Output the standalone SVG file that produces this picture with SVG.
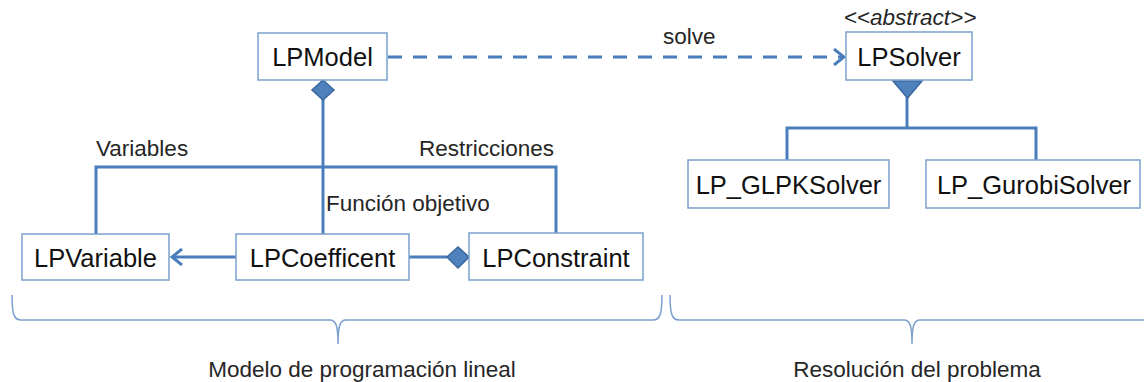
<svg xmlns="http://www.w3.org/2000/svg" width="1144" height="382" viewBox="0 0 1144 382">
<style>
.box{fill:#ffffff;stroke:#7BA0CD;stroke-width:1.5}
.nt{font-family:"Liberation Sans",Arial,sans-serif;font-size:25.5px;fill:#111111;text-anchor:middle}
.lb{font-family:"Liberation Sans",Arial,sans-serif;font-size:22.5px;fill:#262626}
.ln{fill:none;stroke:#4A7EBB;stroke-width:3}
.br{fill:none;stroke:#7BA0CD;stroke-width:1.5}
.dm{fill:#4F81BD;stroke:#3A679E;stroke-width:1.5}
</style>
<defs>
<marker id="open" markerWidth="14" markerHeight="18" refX="12" refY="9" orient="auto" markerUnits="userSpaceOnUse">
<path d="M2,1 L12,9 L2,17" fill="none" stroke="#4A7EBB" stroke-width="3"/>
</marker>
</defs>
<g id="connectors">
<line class="ln" x1="388" y1="57" x2="844" y2="57" stroke-dasharray="14,11" marker-end="url(#open)"/>
<line class="ln" x1="323" y1="99" x2="323" y2="234"/>
<polyline class="ln" points="96,234 96,167 556,167 556,233"/>
<line class="ln" x1="236" y1="257" x2="172" y2="257" marker-end="url(#open)"/>
<line class="ln" x1="409" y1="257" x2="447" y2="257"/>
<line class="ln" x1="907" y1="97" x2="907" y2="128"/>
<polyline class="ln" points="787,160 787,128 1036,128 1036,160"/>
<polygon class="dm" points="323,80 334,90 323,100 312,90"/>
<polygon class="dm" points="458,247 469,257 458,268 447,257"/>
<polygon class="dm" points="893,81 922,81 907.5,98"/>
<text class="lb" x="663" y="44">solve</text>
<text class="lb" x="96" y="156">Variables</text>
<text class="lb" x="419" y="156">Restricciones</text>
<text class="lb" x="326" y="211">Función objetivo</text>
</g>
<g id="LPModel">
<rect class="box" x="258" y="33" width="129" height="47"/>
<text class="nt" x="322.5" y="66">LPModel</text>
</g>
<g id="LPSolver">
<text class="lb" x="910" y="25" text-anchor="middle" font-style="italic" font-size="21px">&lt;&lt;abstract&gt;&gt;</text>
<rect class="box" x="846" y="32" width="126" height="48"/>
<text class="nt" x="909" y="65.5">LPSolver</text>
</g>
<g id="LP_GLPKSolver">
<rect class="box" x="688" y="160" width="201" height="48"/>
<text class="nt" x="788.5" y="193.5">LP_GLPKSolver</text>
</g>
<g id="LP_GurobiSolver">
<rect class="box" x="926" y="160" width="214" height="48"/>
<text class="nt" x="1034" y="193.5">LP_GurobiSolver</text>
</g>
<g id="LPVariable">
<rect class="box" x="22" y="234" width="147" height="46"/>
<text class="nt" x="95.5" y="266.5">LPVariable</text>
</g>
<g id="LPCoefficent">
<rect class="box" x="236" y="234" width="173" height="46"/>
<text class="nt" x="322.5" y="266.5">LPCoefficent</text>
</g>
<g id="LPConstraint">
<rect class="box" x="469" y="233" width="174" height="47"/>
<text class="nt" x="556" y="266.5">LPConstraint</text>
</g>
<g id="groups">
<path class="br" d="M12,295 C12,314 14,320 21,320 L330,320 C336,320 338,326 338,344 C338,326 340,320 346,320 L653,320 C660,320 662,314 662,295"/>
<text class="lb" x="362" y="377" text-anchor="middle" font-size="24.5px">Modelo de programación lineal</text>
<path class="br" d="M670,295 C670,314 672,320 679,320 L904,320 C910,320 912,326 912,344 C912,326 914,320 920,320 L1144,320"/>
<text class="lb" x="917" y="377" text-anchor="middle" font-size="24px">Resolución del problema</text>
</g>
</svg>
